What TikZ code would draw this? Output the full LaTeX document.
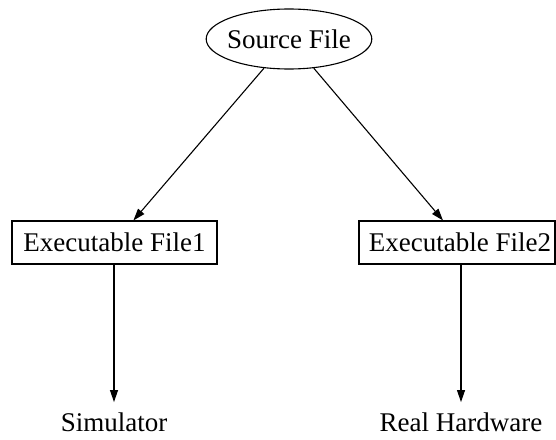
\documentclass[tikz,border=0pt]{standalone}
\usepackage{fontspec}
\setmainfont{Liberation Serif}
\usetikzlibrary{shapes.geometric,arrows.meta}
\begin{document}
\begin{tikzpicture}[x=1pt,y=-1pt,
  every node/.style={font=\fontsize{27}{32}\selectfont},
  filebox/.style={draw,line width=1.1pt,inner sep=0pt,minimum height=43pt},
  srcnode/.style={draw,ellipse,line width=1.1pt,inner xsep=-3.3pt,inner ysep=0pt,minimum height=60pt},
  target/.style={inner sep=0pt,anchor=base},
  link/.style={line width=1.1pt,-{Triangle[length=12pt,width=8pt]}}]
  \useasboundingbox (0,0) rectangle (556,439);
  \clip (0,0) rectangle (556,439);
  % source and the two executables
  \node[srcnode] (src) at (289,39) {Source File};
  \node[filebox,minimum width=205pt] (b1) at (114.5,242.5) {Executable File1};
  \node[filebox,minimum width=196pt] (b2) at (457,242.5) {\hspace*{6pt}Executable File2};
  % where each executable runs
  \node[target] (sim) at (114,431) {Simulator};
  \node[target] (hw) at (461,431) {Real Hardware};
  % connectors
  \draw[link] (src) -- (b1);
  \draw[link] (src) -- (b2.north -| 443,0) ;
  \draw[link,shorten >=10pt] (sim |- b1.south) -- (sim.north);
  \draw[link,shorten >=10pt] (hw |- b2.south) -- (hw.north);
\end{tikzpicture}
\end{document}
